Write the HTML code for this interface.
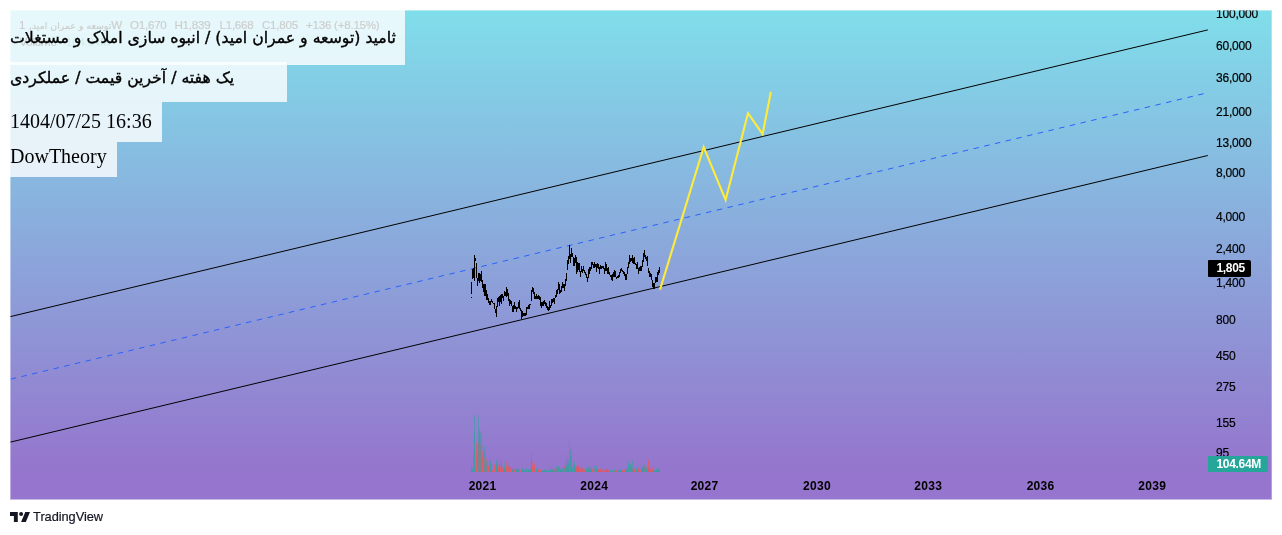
<!DOCTYPE html>
<html lang="fa">
<head>
<meta charset="utf-8">
<title>ثامید - TradingView</title>
<style>
*{box-sizing:border-box;margin:0;padding:0}
html,body{width:1282px;height:535px;background:#fff;overflow:hidden}
body{position:relative;font-family:"Liberation Sans","DejaVu Sans",sans-serif}
#chart{position:absolute;left:10px;top:10px;width:1262px;height:489px;overflow:hidden;
 background:linear-gradient(180deg,#80deea 0,#9575cd 461px)}
#chart svg{position:absolute;left:0;top:0}
.lg{position:absolute;font-size:11.6px;line-height:14px;color:#000;white-space:nowrap;letter-spacing:-.25px;-webkit-text-stroke:.2px currentColor}
.la{font-family:"DejaVu Sans",sans-serif;font-size:9.4px;letter-spacing:0}
.tb{position:absolute;left:0;background:rgba(255,255,255,.8);}
.tx{position:absolute;left:0;white-space:nowrap;color:#000;font-family:"Liberation Serif","DejaVu Sans",serif;font-size:20px;line-height:24px}
.fa{font-family:"DejaVu Sans","Liberation Serif",sans-serif;font-size:15.7px;transform-origin:0 0;transform:scaleX(1);-webkit-text-stroke:.38px #000}
.pl{position:absolute;left:1206px;font-size:12px;line-height:14px;height:14px;color:#000;white-space:nowrap;letter-spacing:-.2px;-webkit-text-stroke:.2px #000}
.tl{position:absolute;top:469px;width:60px;margin-left:-30px;text-align:center;font-size:12px;line-height:14px;font-weight:bold;color:#000;letter-spacing:.3px}
.tag{position:absolute;left:1198px;height:17px;border-radius:1px 2px 2px 1px;color:#fff;font-weight:bold;font-size:12px;line-height:17px;padding-left:8.4px;white-space:nowrap;letter-spacing:-.3px}
.edge{position:absolute}
#logo{position:absolute;left:10px;top:510px;height:14px;white-space:nowrap}
#logo svg{position:absolute;left:0;top:2px}
#logo span{position:absolute;left:23.1px;top:.2px;font-size:12.8px;line-height:14px;color:#131722;letter-spacing:-.05px;-webkit-text-stroke:.2px #131722}
</style>
</head>
<body>
<div id="chart">
  <!-- legend (sits under the text boxes) -->
  <div class="lg" id="lg1" style="left:9px;top:8px"><span class="la">توسعه و عمران امید</span>, 1W</div>
  <div class="lg" style="left:120px;top:8px">O1,670</div>
  <div class="lg" style="left:164.5px;top:8px">H1,839</div>
  <div class="lg" style="left:209.5px;top:8px">L1,668</div>
  <div class="lg" style="left:252px;top:8px">C1,805</div>
  <div class="lg" style="left:296px;top:8px">+136 (+8.15%)</div>
  <div class="lg" style="left:9.5px;top:25px">Volume</div>
  <div class="lg" style="left:56px;top:25px;color:#26a69a">104.64M</div>

  <svg id="plot" width="1262" height="489" viewBox="10 10 1262 489">
    <g id="vol" fill="none" stroke-width="1" shape-rendering="crispEdges"><path stroke="rgba(239,83,80,.5)" d="M473.5 450V472M475.5 470V472M476.5 443V472M477.5 444V472M478.5 441V472M479.5 428V472M480.5 445V472M481.5 430V472M482.5 451V472M483.5 447V472M484.5 458V472M485.5 449V472M486.5 459V472M487.5 461V472M488.5 465V472M489.5 455V472M491.5 470V472M492.5 470V472M493.5 471V472M494.5 464V472M495.5 465V472M498.5 465V472M500.5 466V472M502.5 467V472M506.5 462V472M507.5 463V472M508.5 466V472M509.5 466V472M510.5 467V472M511.5 467V472M514.5 469V472M515.5 468V472M519.5 469V472M520.5 470V472M521.5 469V472M525.5 470V472M532.5 462V472M533.5 467V472M534.5 464V472M535.5 469V472M538.5 469V472M539.5 469V472M540.5 469V472M541.5 470V472M545.5 470V472M547.5 470V472M549.5 467V472M551.5 469V472M554.5 469V472M556.5 468V472M559.5 466V472M563.5 465V472M564.5 466V472M569.5 440V472M571.5 456V472M573.5 463V472M576.5 466V472M578.5 465V472M579.5 468V472M580.5 468V472M581.5 468V472M582.5 468V472M583.5 468V472M584.5 469V472M587.5 468V472M592.5 469V472M593.5 469V472M594.5 468V472M595.5 469V472M598.5 469V472M600.5 468V472M601.5 469V472M602.5 470V472M603.5 470V472M604.5 470V472M606.5 469V472M608.5 470V472M609.5 469V472M611.5 470V472M613.5 470V472M614.5 470V472M615.5 470V472M616.5 470V472M621.5 470V472M622.5 470V472M623.5 469V472M624.5 469V472M625.5 469V472M629.5 463V472M632.5 468V472M634.5 469V472M635.5 470V472M637.5 467V472M638.5 468V472M640.5 470V472M644.5 465V472M645.5 466V472M647.5 467V472M648.5 459V472M650.5 469V472M651.5 469V472M652.5 467V472"/><path stroke="rgba(239,83,80,.5)" d="M473.5 457V472M475.5 471V472M476.5 452V472M477.5 452V472M481.5 443V472M482.5 457V472M483.5 455V472M485.5 456V472M487.5 464V472M488.5 467V472M489.5 460V472M492.5 471V472M494.5 466V472M495.5 467V472M498.5 467V472M500.5 468V472M502.5 469V472M506.5 465V472M507.5 466V472M508.5 468V472M510.5 469V472M511.5 469V472M514.5 470V472M515.5 469V472M519.5 470V472M520.5 471V472M521.5 470V472M525.5 471V472M532.5 465V472M533.5 469V472M534.5 466V472M535.5 470V472M538.5 470V472M540.5 470V472M541.5 471V472M545.5 471V472M547.5 471V472M549.5 469V472M559.5 468V472M563.5 467V472M569.5 450V472M573.5 466V472M576.5 468V472M578.5 467V472M579.5 469V472M580.5 469V472M582.5 469V472M583.5 469V472M584.5 470V472M587.5 469V472M592.5 470V472M593.5 470V472M595.5 470V472M598.5 470V472M600.5 469V472M602.5 471V472M603.5 471V472M604.5 471V472M606.5 470V472M608.5 471V472M609.5 470V472M611.5 471V472M613.5 471V472M615.5 471V472M616.5 471V472M621.5 471V472M622.5 471V472M623.5 470V472M624.5 470V472M625.5 470V472M629.5 466V472M634.5 470V472M635.5 471V472M637.5 469V472M638.5 469V472M640.5 471V472M645.5 468V472M647.5 469V472M648.5 463V472M650.5 470V472M651.5 470V472M652.5 469V472"/><path stroke="rgba(38,166,154,.5)" d="M471.5 465V472M472.5 468V472M474.5 415V472M478.5 417V472M479.5 431V472M480.5 433V472M484.5 446V472M486.5 460V472M490.5 461V472M491.5 464V472M496.5 460V472M497.5 458V472M499.5 460V472M501.5 460V472M503.5 468V472M504.5 463V472M505.5 469V472M509.5 468V472M512.5 469V472M513.5 468V472M516.5 469V472M517.5 468V472M518.5 469V472M522.5 468V472M523.5 469V472M524.5 470V472M526.5 468V472M527.5 471V472M528.5 469V472M529.5 469V472M530.5 469V472M531.5 453V472M536.5 468V472M537.5 471V472M539.5 470V472M542.5 470V472M543.5 470V472M544.5 469V472M546.5 470V472M548.5 470V472M550.5 469V472M551.5 467V472M552.5 469V472M553.5 468V472M554.5 470V472M555.5 469V472M556.5 466V472M557.5 467V472M558.5 466V472M560.5 469V472M561.5 469V472M562.5 468V472M564.5 468V472M565.5 459V472M566.5 465V472M567.5 455V472M568.5 460V472M570.5 450V472M571.5 447V472M572.5 467V472M574.5 462V472M575.5 466V472M577.5 465V472M581.5 466V472M585.5 470V472M586.5 468V472M588.5 466V472M589.5 466V472M590.5 469V472M591.5 467V472M594.5 466V472M596.5 466V472M597.5 469V472M599.5 469V472M601.5 470V472M605.5 469V472M607.5 469V472M610.5 470V472M612.5 470V472M614.5 469V472M617.5 470V472M618.5 470V472M619.5 470V472M620.5 469V472M626.5 469V472M627.5 467V472M628.5 461V472M630.5 464V472M631.5 465V472M632.5 460V472M633.5 468V472M636.5 467V472M639.5 469V472M641.5 465V472M642.5 467V472M643.5 465V472M644.5 464V472M646.5 468V472M649.5 467V472M653.5 470V472M654.5 470V472M655.5 470V472M656.5 468V472M657.5 469V472M658.5 469V472M659.5 468V472"/><path stroke="rgba(38,166,154,.5)" d="M471.5 467V472M472.5 469V472M474.5 433V472M490.5 464V472M496.5 464V472M497.5 462V472M499.5 464V472M501.5 464V472M503.5 469V472M504.5 466V472M505.5 470V472M512.5 470V472M513.5 469V472M516.5 470V472M517.5 469V472M518.5 470V472M522.5 469V472M523.5 470V472M524.5 471V472M526.5 469V472M528.5 470V472M529.5 470V472M530.5 470V472M531.5 459V472M536.5 469V472M542.5 471V472M543.5 471V472M544.5 470V472M546.5 471V472M548.5 471V472M550.5 470V472M552.5 470V472M553.5 469V472M555.5 470V472M557.5 469V472M558.5 468V472M560.5 470V472M561.5 470V472M562.5 469V472M565.5 463V472M566.5 467V472M567.5 460V472M568.5 464V472M570.5 457V472M572.5 469V472M574.5 465V472M575.5 468V472M577.5 467V472M585.5 471V472M586.5 469V472M588.5 468V472M589.5 468V472M590.5 470V472M591.5 469V472M596.5 468V472M597.5 470V472M599.5 470V472M605.5 470V472M607.5 470V472M610.5 471V472M612.5 471V472M617.5 471V472M618.5 471V472M619.5 471V472M620.5 470V472M626.5 470V472M627.5 469V472M628.5 464V472M630.5 466V472M631.5 467V472M633.5 469V472M636.5 469V472M639.5 470V472M641.5 467V472M642.5 469V472M643.5 467V472M646.5 469V472M649.5 469V472M653.5 471V472M654.5 471V472M655.5 471V472M656.5 469V472M657.5 470V472M658.5 470V472M659.5 469V472"/></g>
    <g fill="none" stroke="#000" stroke-width="1">
      <line x1="0" y1="319.1" x2="1207.8" y2="29.9"/>
      <line x1="0" y1="444.6" x2="1207.8" y2="155.5"/>
    </g>
    <line x1="0" y1="381.7" x2="1207.8" y2="92.7" stroke="#2962ff" stroke-width="1" stroke-dasharray="5.5 5.5" fill="none"/>
    <path id="bars" fill="none" stroke="#000" stroke-width="1" shape-rendering="crispEdges" d="M471.5 282V294M471.5 297V298M472.5 269V279M473.5 268V278M474.5 255V281M475.5 258V261M476.5 263V278M477.5 278V286M478.5 273V281M479.5 273V283M480.5 274V281M481.5 271V282M482.5 280V288M483.5 284V292M484.5 284V296M485.5 284V296M486.5 290V300M487.5 294V300M488.5 298V303M489.5 301V305M490.5 301V305M491.5 299V302M492.5 301V303M493.5 303V304M494.5 303V309M495.5 309V313M496.5 306V317M497.5 298V307M498.5 297V302M499.5 296V306M500.5 295V302M501.5 294V304M502.5 294V298M503.5 296V301M504.5 291V296M505.5 292V296M506.5 287V297M507.5 289V296M508.5 293V301M509.5 299V306M510.5 300V304M511.5 301V306M512.5 306V312M513.5 305V312M514.5 302V309M515.5 306V309M516.5 307V312M517.5 307V309M518.5 302V308M519.5 300V309M520.5 308V311M521.5 310V319M522.5 311V317M523.5 313V316M524.5 313V316M525.5 313V316M526.5 307V315M527.5 307V309M528.5 305V309M529.5 304V309M530.5 304V305M531.5 290V301M532.5 287V292M533.5 288V294M534.5 292V299M535.5 296V299M536.5 294V299M537.5 296V299M538.5 295V299M539.5 296V300M540.5 297V306M541.5 302V308M542.5 302V306M543.5 301V306M544.5 300V304M545.5 302V306M546.5 303V308M547.5 306V310M548.5 307V311M549.5 301V310M550.5 305V308M551.5 299V306M552.5 299V303M553.5 298V302M554.5 298V304M555.5 295V298M556.5 290V297M557.5 289V294M558.5 282V290M559.5 284V294M560.5 290V293M561.5 286V292M562.5 282V288M563.5 284V288M564.5 284V291M565.5 279V286M566.5 273V281M567.5 260V270M568.5 256V264M569.5 245V259M570.5 254V263M571.5 248V257M572.5 253V257M573.5 257V266M574.5 258V266M575.5 255V263M576.5 257V274M577.5 262V272M578.5 263V270M579.5 263V272M580.5 271V277M581.5 266V272M582.5 269V273M583.5 266V271M584.5 270V273M585.5 272V275M586.5 274V278M587.5 277V282M588.5 269V278M589.5 267V274M590.5 267V271M591.5 262V269M592.5 262V265M593.5 264V268M594.5 262V268M595.5 264V267M596.5 264V272M597.5 263V268M598.5 264V269M599.5 267V274M600.5 265V269M601.5 266V269M602.5 266V268M603.5 266V269M604.5 268V274M605.5 262V271M606.5 264V271M607.5 268V274M608.5 267V274M609.5 272V275M610.5 275V277M611.5 275V280M612.5 274V281M613.5 272V277M614.5 270V277M615.5 271V277M616.5 277V279M617.5 276V278M618.5 275V278M619.5 272V277M620.5 269V273M621.5 268V271M622.5 270V272M623.5 271V274M624.5 272V276M625.5 274V280M626.5 274V280M627.5 267V274M628.5 262V268M629.5 255V264M630.5 258V262M631.5 258V261M632.5 255V263M633.5 258V264M634.5 257V264M635.5 263V265M636.5 264V269M637.5 262V269M638.5 268V274M639.5 267V271M640.5 266V271M641.5 266V271M642.5 260V267M643.5 253V262M644.5 250V257M645.5 255V259M646.5 257V261M647.5 256V266M648.5 268V273M649.5 271V277M650.5 273V277M651.5 274V280M652.5 280V287M653.5 283V289M654.5 283V289M655.5 277V283M656.5 277V282M657.5 272V282M658.5 270V275M659.5 267V273"/>
    <polyline points="660,289.6 703.7,147.2 725.6,200 748,113.2 762.6,134.2 770.9,91.8" fill="none" stroke="#ffeb3b" stroke-width="2.1" stroke-linejoin="miter" stroke-miterlimit="10" stroke-linecap="butt"/>
  </svg>

  <!-- text drawings -->
  <div class="tb" style="top:0;width:395px;height:55px"></div>
  <div class="tb" style="top:52px;width:277px;height:40px"></div>
  <div class="tb" style="top:92px;width:152px;height:40px"></div>
  <div class="tb" style="top:132px;width:107px;height:35px"></div>
  <div class="tx fa" id="t1" style="top:16px" dir="rtl">ثامید (توسعه و عمران امید) / انبوه سازی املاک و مستغلات</div>
  <div class="tx fa" id="t2" style="top:56px" dir="rtl">یک هفته / آخرین قیمت / عملکردی</div>
  <div class="tx" style="top:99px">1404/07/25 16:36</div>
  <div class="tx" style="top:134px">DowTheory</div>

  <!-- price axis -->
  <div class="pl" style="top:-3px">100,000</div>
  <div class="pl" style="top:29px">60,000</div>
  <div class="pl" style="top:61px">36,000</div>
  <div class="pl" style="top:95px">21,000</div>
  <div class="pl" style="top:126px">13,000</div>
  <div class="pl" style="top:156px">8,000</div>
  <div class="pl" style="top:200px">4,000</div>
  <div class="pl" style="top:232px">2,400</div>
  <div class="pl" style="top:266px">1,400</div>
  <div class="pl" style="top:303px">800</div>
  <div class="pl" style="top:339px">450</div>
  <div class="pl" style="top:370px">275</div>
  <div class="pl" style="top:406px">155</div>
  <div class="pl" style="top:436px">95</div>
  <div class="tag" style="top:250px;width:43px;background:#000">1,805</div>
  <div class="tag" style="top:446px;width:60px;height:16px;line-height:16px;background:#26a69a">104.64M</div>

  <!-- time axis -->
  <div class="tl" style="left:472.6px">2021</div>
  <div class="tl" style="left:584.3px">2024</div>
  <div class="tl" style="left:694.6px">2027</div>
  <div class="tl" style="left:807px">2030</div>
  <div class="tl" style="left:918.3px">2033</div>
  <div class="tl" style="left:1030.6px">2036</div>
  <div class="tl" style="left:1142.2px">2039</div>
</div>

<div class="edge" style="left:10px;top:10px;width:1262px;height:1px;background:rgba(255,255,255,.4)"></div>
<div class="edge" style="left:10px;top:10px;width:1px;height:489px;background:rgba(255,255,255,.4)"></div>
<div class="edge" style="left:1271px;top:10px;width:1px;height:489px;background:rgba(255,255,255,.3)"></div>
<div class="edge" style="left:10px;top:499px;width:1262px;height:1px;background:rgba(149,117,205,.5)"></div>

<div id="logo">
  <svg width="20" height="10" viewBox="0 0 36 18"><path fill="#131722" d="M14 18H7V7H0V0h14v18zM28.5 18H20L27.5 0H36l-7.5 18z"/><circle cx="20" cy="3.6" r="3.6" fill="#131722"/></svg>
  <span>TradingView</span>
</div>
</body>
</html>
